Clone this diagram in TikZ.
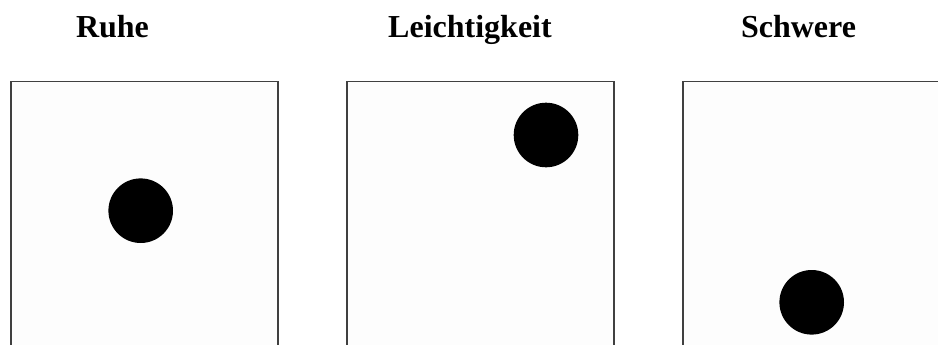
\documentclass[tikz,border=0pt]{standalone}
\usepackage{fontspec}
\setmainfont{Liberation Serif}
\usetikzlibrary{positioning}
\definecolor{frame}{HTML}{404040}
\definecolor{paper}{HTML}{FDFDFD}

\begin{document}
\begin{tikzpicture}[
  x=1pt, y=-1pt,
  panel/.style={draw=frame, fill=paper, line width=1.5pt, minimum width=267pt,
                minimum height=290pt, anchor=north west, inner sep=0pt},
  ball/.style={circle, fill=black, minimum size=64.6pt, inner sep=0pt},
  title/.style={font=\bfseries\fontsize{32}{38}\selectfont, anchor=base},
]

% Canvas
\useasboundingbox (0,0) rectangle (938,345);
\clip (0,0) rectangle (938,345);

% Titles
\node[title] (tRuhe) at (112.5,37.3) {Ruhe};
\node[title] (tLeicht) at (470,37.3) {Leichtigkeit};
\node[title] (tSchwer) at (798.5,37.3) {Schwere};

% Panels (cut off at the bottom)
\node[panel] (pRuhe) at (10,81) {};
\node[panel] (pLeicht) at (346,81) {};
\node[panel] (pSchwer) at (682,81) {};

% Balls
\node[ball] (bRuhe) at (140.7,210.7) {};
\node[ball] (bLeicht) at (546,135) {};
\node[ball] (bSchwer) at (811.7,302.3) {};

\end{tikzpicture}
\end{document}
